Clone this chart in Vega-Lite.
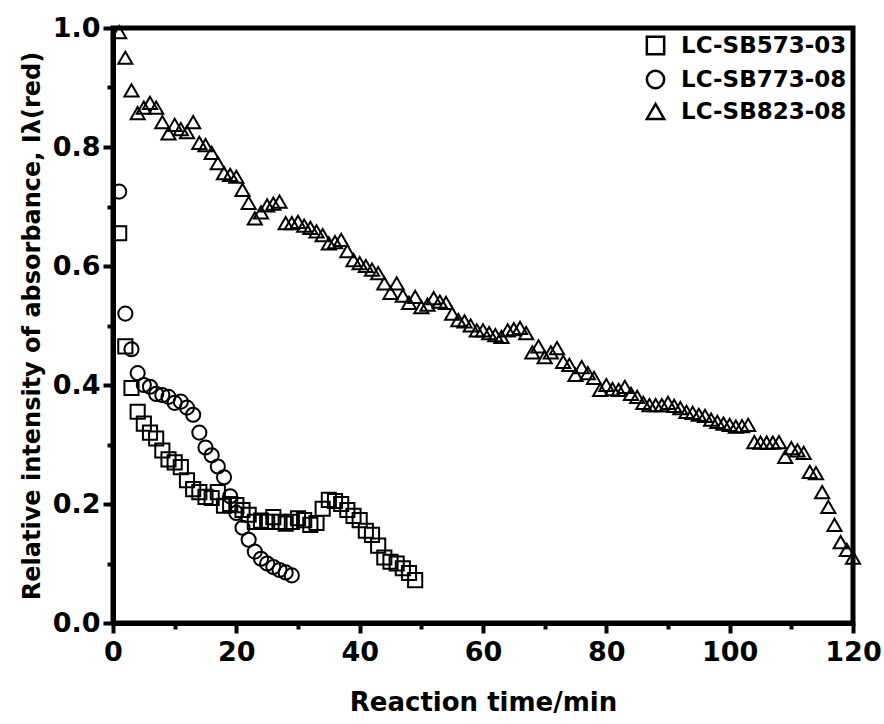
{
  "$schema": "https://vega.github.io/schema/vega-lite/v6.json",
  "width": 740,
  "height": 595,
  "autosize": {"type": "none"},
  "padding": {"left": 113, "top": 28, "right": 31, "bottom": 101},
  "background": "white",
  "config": {
    "font": "DejaVu Sans",
    "view": {"stroke": "black", "strokeWidth": 5},
    "axis": {
      "domainColor": "black", "domainWidth": 5, "tickColor": "black", "tickWidth": 4,
      "labelFont": "DejaVu Sans", "labelFontWeight": "bold", "labelFontSize": 27, "labelColor": "black",
      "titleFont": "DejaVu Sans", "titleFontWeight": "bold", "titleFontSize": 24, "titleColor": "black",
      "grid": false
    },
    "legend": {"labelFont": "DejaVu Sans", "labelFontWeight": "bold", "labelFontSize": 23, "labelColor": "black", "labelLimit": 400}
  },
  "data": {"values": [
    {"t":1,"v":0.655,"s":"LC-SB573-03"},{"t":2,"v":0.465,"s":"LC-SB573-03"},{"t":3,"v":0.395,"s":"LC-SB573-03"},{"t":4,"v":0.355,"s":"LC-SB573-03"},{"t":5,"v":0.335,"s":"LC-SB573-03"},{"t":6,"v":0.32,"s":"LC-SB573-03"},{"t":7,"v":0.31,"s":"LC-SB573-03"},{"t":8,"v":0.29,"s":"LC-SB573-03"},{"t":9,"v":0.275,"s":"LC-SB573-03"},{"t":10,"v":0.27,"s":"LC-SB573-03"},{"t":11,"v":0.262,"s":"LC-SB573-03"},{"t":12,"v":0.24,"s":"LC-SB573-03"},{"t":13,"v":0.225,"s":"LC-SB573-03"},{"t":14,"v":0.22,"s":"LC-SB573-03"},{"t":15,"v":0.212,"s":"LC-SB573-03"},{"t":16,"v":0.21,"s":"LC-SB573-03"},{"t":17,"v":0.22,"s":"LC-SB573-03"},{"t":18,"v":0.197,"s":"LC-SB573-03"},{"t":19,"v":0.2,"s":"LC-SB573-03"},{"t":20,"v":0.198,"s":"LC-SB573-03"},{"t":21,"v":0.19,"s":"LC-SB573-03"},{"t":22,"v":0.182,"s":"LC-SB573-03"},{"t":23,"v":0.17,"s":"LC-SB573-03"},{"t":24,"v":0.172,"s":"LC-SB573-03"},{"t":25,"v":0.17,"s":"LC-SB573-03"},{"t":26,"v":0.178,"s":"LC-SB573-03"},{"t":27,"v":0.17,"s":"LC-SB573-03"},{"t":28,"v":0.167,"s":"LC-SB573-03"},{"t":29,"v":0.17,"s":"LC-SB573-03"},{"t":30,"v":0.176,"s":"LC-SB573-03"},{"t":31,"v":0.173,"s":"LC-SB573-03"},{"t":32,"v":0.165,"s":"LC-SB573-03"},{"t":33,"v":0.168,"s":"LC-SB573-03"},{"t":34,"v":0.192,"s":"LC-SB573-03"},{"t":35,"v":0.207,"s":"LC-SB573-03"},{"t":36,"v":0.205,"s":"LC-SB573-03"},{"t":37,"v":0.2,"s":"LC-SB573-03"},{"t":38,"v":0.19,"s":"LC-SB573-03"},{"t":39,"v":0.18,"s":"LC-SB573-03"},{"t":40,"v":0.173,"s":"LC-SB573-03"},{"t":41,"v":0.155,"s":"LC-SB573-03"},{"t":42,"v":0.148,"s":"LC-SB573-03"},{"t":43,"v":0.13,"s":"LC-SB573-03"},{"t":44,"v":0.11,"s":"LC-SB573-03"},{"t":45,"v":0.103,"s":"LC-SB573-03"},{"t":46,"v":0.1,"s":"LC-SB573-03"},{"t":47,"v":0.092,"s":"LC-SB573-03"},{"t":48,"v":0.084,"s":"LC-SB573-03"},{"t":49,"v":0.072,"s":"LC-SB573-03"},
    {"t":1,"v":0.725,"s":"LC-SB773-08"},{"t":2,"v":0.52,"s":"LC-SB773-08"},{"t":3,"v":0.46,"s":"LC-SB773-08"},{"t":4,"v":0.42,"s":"LC-SB773-08"},{"t":5,"v":0.4,"s":"LC-SB773-08"},{"t":6,"v":0.397,"s":"LC-SB773-08"},{"t":7,"v":0.385,"s":"LC-SB773-08"},{"t":8,"v":0.383,"s":"LC-SB773-08"},{"t":9,"v":0.38,"s":"LC-SB773-08"},{"t":10,"v":0.37,"s":"LC-SB773-08"},{"t":11,"v":0.372,"s":"LC-SB773-08"},{"t":12,"v":0.362,"s":"LC-SB773-08"},{"t":13,"v":0.35,"s":"LC-SB773-08"},{"t":14,"v":0.32,"s":"LC-SB773-08"},{"t":15,"v":0.295,"s":"LC-SB773-08"},{"t":16,"v":0.282,"s":"LC-SB773-08"},{"t":17,"v":0.263,"s":"LC-SB773-08"},{"t":18,"v":0.245,"s":"LC-SB773-08"},{"t":19,"v":0.213,"s":"LC-SB773-08"},{"t":20,"v":0.185,"s":"LC-SB773-08"},{"t":21,"v":0.16,"s":"LC-SB773-08"},{"t":22,"v":0.14,"s":"LC-SB773-08"},{"t":23,"v":0.12,"s":"LC-SB773-08"},{"t":24,"v":0.108,"s":"LC-SB773-08"},{"t":25,"v":0.1,"s":"LC-SB773-08"},{"t":26,"v":0.094,"s":"LC-SB773-08"},{"t":27,"v":0.089,"s":"LC-SB773-08"},{"t":28,"v":0.085,"s":"LC-SB773-08"},{"t":29,"v":0.08,"s":"LC-SB773-08"},
    {"t":1,"v":0.993,"s":"LC-SB823-08"},{"t":2,"v":0.95,"s":"LC-SB823-08"},{"t":3,"v":0.895,"s":"LC-SB823-08"},{"t":4,"v":0.857,"s":"LC-SB823-08"},{"t":5,"v":0.866,"s":"LC-SB823-08"},{"t":6,"v":0.874,"s":"LC-SB823-08"},{"t":7,"v":0.866,"s":"LC-SB823-08"},{"t":8,"v":0.842,"s":"LC-SB823-08"},{"t":9,"v":0.823,"s":"LC-SB823-08"},{"t":10,"v":0.837,"s":"LC-SB823-08"},{"t":11,"v":0.83,"s":"LC-SB823-08"},{"t":12,"v":0.825,"s":"LC-SB823-08"},{"t":13,"v":0.842,"s":"LC-SB823-08"},{"t":14,"v":0.807,"s":"LC-SB823-08"},{"t":15,"v":0.803,"s":"LC-SB823-08"},{"t":16,"v":0.79,"s":"LC-SB823-08"},{"t":17,"v":0.773,"s":"LC-SB823-08"},{"t":18,"v":0.756,"s":"LC-SB823-08"},{"t":19,"v":0.753,"s":"LC-SB823-08"},{"t":20,"v":0.75,"s":"LC-SB823-08"},{"t":21,"v":0.728,"s":"LC-SB823-08"},{"t":22,"v":0.706,"s":"LC-SB823-08"},{"t":23,"v":0.68,"s":"LC-SB823-08"},{"t":24,"v":0.69,"s":"LC-SB823-08"},{"t":25,"v":0.702,"s":"LC-SB823-08"},{"t":26,"v":0.705,"s":"LC-SB823-08"},{"t":27,"v":0.708,"s":"LC-SB823-08"},{"t":28,"v":0.672,"s":"LC-SB823-08"},{"t":29,"v":0.672,"s":"LC-SB823-08"},{"t":30,"v":0.674,"s":"LC-SB823-08"},{"t":31,"v":0.668,"s":"LC-SB823-08"},{"t":32,"v":0.664,"s":"LC-SB823-08"},{"t":33,"v":0.658,"s":"LC-SB823-08"},{"t":34,"v":0.652,"s":"LC-SB823-08"},{"t":35,"v":0.638,"s":"LC-SB823-08"},{"t":36,"v":0.64,"s":"LC-SB823-08"},{"t":37,"v":0.644,"s":"LC-SB823-08"},{"t":38,"v":0.625,"s":"LC-SB823-08"},{"t":39,"v":0.61,"s":"LC-SB823-08"},{"t":40,"v":0.605,"s":"LC-SB823-08"},{"t":41,"v":0.6,"s":"LC-SB823-08"},{"t":42,"v":0.594,"s":"LC-SB823-08"},{"t":43,"v":0.588,"s":"LC-SB823-08"},{"t":44,"v":0.571,"s":"LC-SB823-08"},{"t":45,"v":0.555,"s":"LC-SB823-08"},{"t":46,"v":0.571,"s":"LC-SB823-08"},{"t":47,"v":0.55,"s":"LC-SB823-08"},{"t":48,"v":0.538,"s":"LC-SB823-08"},{"t":49,"v":0.548,"s":"LC-SB823-08"},{"t":50,"v":0.531,"s":"LC-SB823-08"},{"t":51,"v":0.535,"s":"LC-SB823-08"},{"t":52,"v":0.546,"s":"LC-SB823-08"},{"t":53,"v":0.54,"s":"LC-SB823-08"},{"t":54,"v":0.538,"s":"LC-SB823-08"},{"t":55,"v":0.52,"s":"LC-SB823-08"},{"t":56,"v":0.509,"s":"LC-SB823-08"},{"t":57,"v":0.507,"s":"LC-SB823-08"},{"t":58,"v":0.5,"s":"LC-SB823-08"},{"t":59,"v":0.492,"s":"LC-SB823-08"},{"t":60,"v":0.492,"s":"LC-SB823-08"},{"t":61,"v":0.487,"s":"LC-SB823-08"},{"t":62,"v":0.484,"s":"LC-SB823-08"},{"t":63,"v":0.481,"s":"LC-SB823-08"},{"t":64,"v":0.492,"s":"LC-SB823-08"},{"t":65,"v":0.494,"s":"LC-SB823-08"},{"t":66,"v":0.496,"s":"LC-SB823-08"},{"t":67,"v":0.487,"s":"LC-SB823-08"},{"t":68,"v":0.455,"s":"LC-SB823-08"},{"t":69,"v":0.465,"s":"LC-SB823-08"},{"t":70,"v":0.447,"s":"LC-SB823-08"},{"t":71,"v":0.455,"s":"LC-SB823-08"},{"t":72,"v":0.462,"s":"LC-SB823-08"},{"t":73,"v":0.439,"s":"LC-SB823-08"},{"t":74,"v":0.434,"s":"LC-SB823-08"},{"t":75,"v":0.417,"s":"LC-SB823-08"},{"t":76,"v":0.43,"s":"LC-SB823-08"},{"t":77,"v":0.42,"s":"LC-SB823-08"},{"t":78,"v":0.412,"s":"LC-SB823-08"},{"t":79,"v":0.392,"s":"LC-SB823-08"},{"t":80,"v":0.4,"s":"LC-SB823-08"},{"t":81,"v":0.393,"s":"LC-SB823-08"},{"t":82,"v":0.392,"s":"LC-SB823-08"},{"t":83,"v":0.397,"s":"LC-SB823-08"},{"t":84,"v":0.385,"s":"LC-SB823-08"},{"t":85,"v":0.38,"s":"LC-SB823-08"},{"t":86,"v":0.37,"s":"LC-SB823-08"},{"t":87,"v":0.366,"s":"LC-SB823-08"},{"t":88,"v":0.366,"s":"LC-SB823-08"},{"t":89,"v":0.366,"s":"LC-SB823-08"},{"t":90,"v":0.37,"s":"LC-SB823-08"},{"t":91,"v":0.365,"s":"LC-SB823-08"},{"t":92,"v":0.361,"s":"LC-SB823-08"},{"t":93,"v":0.355,"s":"LC-SB823-08"},{"t":94,"v":0.353,"s":"LC-SB823-08"},{"t":95,"v":0.35,"s":"LC-SB823-08"},{"t":96,"v":0.348,"s":"LC-SB823-08"},{"t":97,"v":0.342,"s":"LC-SB823-08"},{"t":98,"v":0.338,"s":"LC-SB823-08"},{"t":99,"v":0.335,"s":"LC-SB823-08"},{"t":100,"v":0.333,"s":"LC-SB823-08"},{"t":101,"v":0.33,"s":"LC-SB823-08"},{"t":102,"v":0.331,"s":"LC-SB823-08"},{"t":103,"v":0.333,"s":"LC-SB823-08"},{"t":104,"v":0.304,"s":"LC-SB823-08"},{"t":105,"v":0.303,"s":"LC-SB823-08"},{"t":106,"v":0.303,"s":"LC-SB823-08"},{"t":107,"v":0.303,"s":"LC-SB823-08"},{"t":108,"v":0.304,"s":"LC-SB823-08"},{"t":109,"v":0.279,"s":"LC-SB823-08"},{"t":110,"v":0.294,"s":"LC-SB823-08"},{"t":111,"v":0.29,"s":"LC-SB823-08"},{"t":112,"v":0.286,"s":"LC-SB823-08"},{"t":113,"v":0.254,"s":"LC-SB823-08"},{"t":114,"v":0.252,"s":"LC-SB823-08"},{"t":115,"v":0.22,"s":"LC-SB823-08"},{"t":116,"v":0.195,"s":"LC-SB823-08"},{"t":117,"v":0.165,"s":"LC-SB823-08"},{"t":118,"v":0.136,"s":"LC-SB823-08"},{"t":119,"v":0.123,"s":"LC-SB823-08"},{"t":120,"v":0.11,"s":"LC-SB823-08"}
  ]},
  "mark": {"type": "point", "filled": false, "stroke": "black", "strokeWidth": 2, "size": 200, "opacity": 1, "clip": false},
  "encoding": {
    "x": {"field": "t", "type": "quantitative", "scale": {"domain": [0, 120], "nice": false},
      "axis": {"title": "Reaction time/min", "titleFontSize": 26, "values": [0,10,20,30,40,50,60,70,80,90,100,110,120],
        "labelExpr": "datum.value % 20 == 0 ? datum.label : ''",
        "tickSize": {"condition": {"test": "datum.value % 20 == 0", "value": 10}, "value": 6},
        "labelPadding": 6, "titlePadding": 24, "labelFlush": false}},
    "y": {"field": "v", "type": "quantitative", "scale": {"domain": [0, 1], "nice": false},
      "axis": {"title": "Relative intensity of absorbance, Iλ(red)", "values": [0,0.1,0.2,0.3,0.4,0.5,0.6,0.7,0.8,0.9,1.0],
        "labelExpr": "(round(datum.value*10) % 2 == 0) ? format(datum.value, '.1f') : ''",
        "tickSize": {"condition": {"test": "round(datum.value*10) % 2 == 0", "value": 10}, "value": 6},
        "labelPadding": 3, "titlePadding": 8, "labelFlush": false}},
    "shape": {"field": "s", "type": "nominal",
      "scale": {"domain": ["LC-SB573-03", "LC-SB773-08", "LC-SB823-08"], "range": ["square", "circle", "triangle-up"]},
      "legend": {"title": null, "orient": "top-right", "offset": 6, "symbolSize": 300, "symbolStrokeWidth": 2.5, "symbolStrokeColor": "black", "symbolFillColor": "transparent", "rowPadding": 5, "labelOffset": 14, "labelLimit": 400}}
  }
}
